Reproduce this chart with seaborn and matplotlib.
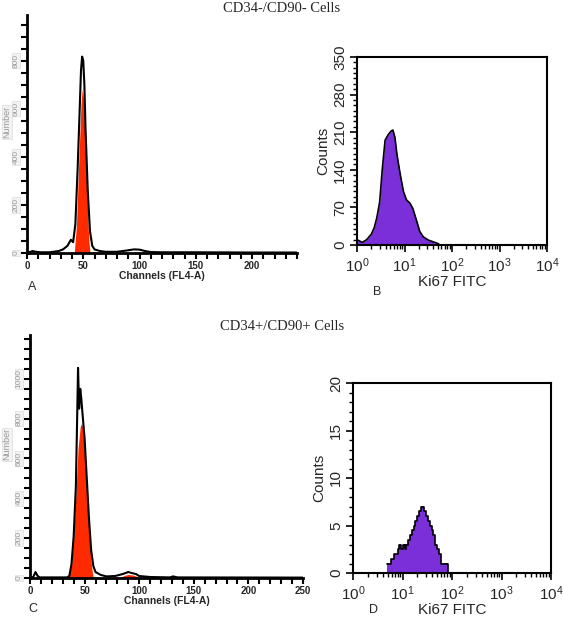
import numpy as np, pandas as pd, matplotlib
matplotlib.use("Agg")
import matplotlib.pyplot as plt
import seaborn as sns
from matplotlib.ticker import MultipleLocator, LogLocator

# Panel A: DNA content, CD34-/CD90-
a_channel = [0, 5, 8, 12, 20, 28, 32, 36, 39, 41, 43, 45, 47, 48, 49, 50, 51, 52, 54, 56, 58, 60, 65, 70, 80, 88, 95, 100, 105, 110, 120, 150, 200, 240]
a_count = [0, 8, 5, 3, 3, 8, 15, 30, 55, 45, 120, 350, 620, 760, 817, 800, 700, 520, 260, 90, 30, 15, 8, 5, 5, 10, 15, 14, 8, 4, 3, 3, 2, 2]
a_g1_channel = [42, 44, 46, 48, 49, 50, 52, 54, 55, 56]
a_g1_count = [0, 120, 380, 620, 680, 650, 420, 150, 50, 0]
a_yticks = [0, 200, 400, 600, 800]

# Panel C: DNA content, CD34+/CD90+
c_channel = [0, 3, 5, 7, 9, 20, 34, 36, 38, 40, 42, 43, 44, 45, 46, 47, 48, 50, 52, 54, 56, 58, 60, 65, 70, 78, 85, 90, 93, 97, 100, 110, 128, 131, 135, 250]
c_count = [0, 5, 30, 10, 3, 3, 3, 10, 70, 210, 460, 750, 1055, 850, 950, 900, 830, 700, 500, 300, 140, 60, 30, 15, 8, 10, 20, 30, 25, 20, 10, 5, 3, 8, 3, 2]
c_g1_channel = [35, 38, 40, 42, 44, 46, 47, 48, 50, 52, 54, 56, 57, 58]
c_g1_count = [0, 60, 200, 420, 650, 760, 775, 760, 620, 430, 230, 80, 30, 0]
c_g2_channel = [82, 86, 90, 94, 98, 102]
c_g2_count = [0, 12, 18, 15, 8, 0]
c_yticks = [0, 200, 400, 600, 800, 1000]

# Panel B: Ki67 FITC, CD34-/CD90-
b_fitc = [1.0, 1.1, 1.3, 1.6, 2.0, 2.3, 2.6, 3.0, 3.4, 3.9, 4.5, 5.2, 5.7, 6.3, 6.9, 8.0, 9.5, 11, 13, 15, 18, 21, 25, 32, 40, 50, 56]
b_count = [10, 8, 5, 10, 20, 32, 50, 80, 140, 195, 205, 212, 214, 200, 170, 135, 100, 84, 78, 68, 45, 25, 15, 9, 6, 3, 0]

# Panel D: Ki67 FITC, CD34+/CD90+
d_fitc = [4.9, 5.5, 6.2, 7.0, 7.6, 8.3, 9.0, 9.8, 10.6, 11.5, 12.5, 13.6, 14.8, 16.1, 17.5, 19.0, 20.7, 22.5, 24.4, 26.6, 28.9, 31.4, 34.1, 37.1, 40.3, 43.8, 47.6, 51.8, 56.3, 61.2, 66.5, 72.3, 78.6, 85.0]
d_count = [1, 1, 1.5, 2, 2, 2.5, 3, 2.5, 3, 2.5, 3, 3.5, 4, 4.5, 5, 5.5, 6, 6.5, 7, 7, 6.5, 6, 5.5, 5, 4.5, 4, 3, 2.5, 2, 1, 1, 1, 1, 0]

titles = ["CD34-/CD90- Cells", "CD34+/CD90+ Cells"]
letters = ["A", "B", "C", "D"]

sns.set_theme(style="ticks")
plt.rcParams["font.family"] = ["Liberation Sans", "DejaVu Sans"]

W, H = 563, 624
fig = plt.figure(figsize=(W / 100, H / 100), dpi=100)

def box(l, t, r, b):
    return fig.add_axes([l / W, 1 - b / H, (r - l) / W, (b - t) / H])

red = "#ff2a00"
purple = "#7b2fd9"
gray = "#9a9a9a"

def dna_panel(ax, ch, cnt, fills, xmax, ymax, yticks, left_px, width_px):
    for fx, fy in fills:
        ax.fill_between(fx, fy, color=red, lw=0, zorder=2)
    sns.lineplot(x=ch, y=cnt, ax=ax, color="black", lw=1.5, zorder=3)
    ax.set_xlim(0, xmax)
    ax.set_ylim(0, ymax)
    sns.despine(ax=ax)
    for s in ["left", "bottom"]:
        ax.spines[s].set_linewidth(2)
        ax.spines[s].set_color("black")
    ax.xaxis.set_major_locator(MultipleLocator(50))
    ax.xaxis.set_minor_locator(MultipleLocator(10))
    ax.set_yticks(yticks)
    ax.yaxis.set_minor_locator(MultipleLocator(50))
    ax.tick_params(axis="both", which="major", length=4.5, width=1.5, direction="out", color="black")
    ax.tick_params(axis="both", which="minor", length=4, width=1.5, direction="out", color="black")
    ax.tick_params(axis="x", labelsize=7, pad=1)
    ax.tick_params(axis="y", labelsize=6, pad=1, labelcolor=gray, labelrotation=90)
    for lbl in ax.get_xticklabels():
        lbl.set_fontweight("bold")
    for lbl in ax.get_yticklabels():
        lbl.set_va("center")
        lbl.set_bbox(dict(facecolor="#f2f2f2", edgecolor="#dddddd", lw=0.5, pad=0.5))
    ax.set_xlabel("Channels (FL4-A)", fontsize=7.5, fontweight="bold", labelpad=0)
    ax.set_ylabel("Number", fontsize=6.5, color=gray,
                  bbox=dict(facecolor="#f2f2f2", edgecolor="#dddddd", lw=0.5, pad=0.5))
    ax.yaxis.set_label_coords((11.5 - left_px) / width_px, 0.55)
    ax.grid(False)

def ki67_panel(ax, fx, cnt, ymax, ystep, yminor, step):
    ds = "steps-mid" if step else "default"
    ax.fill_between(fx, cnt, color=purple, lw=0, step="mid" if step else None, zorder=2)
    sns.lineplot(x=fx, y=cnt, ax=ax, color="black", lw=1.2, drawstyle=ds, zorder=3)
    ax.set_xscale("log")
    ax.set_xlim(1, 1e4)
    ax.set_ylim(0, ymax)
    for s in ax.spines.values():
        s.set_linewidth(1.5)
        s.set_color("black")
    ax.xaxis.set_major_locator(LogLocator(base=10, numticks=10))
    ax.xaxis.set_minor_locator(LogLocator(base=10, subs=np.arange(2, 10), numticks=10))
    ax.yaxis.set_major_locator(MultipleLocator(ystep))
    ax.yaxis.set_minor_locator(MultipleLocator(yminor))
    ax.tick_params(axis="both", which="major", length=5, width=1.2, direction="out", color="black", labelsize=11)
    ax.tick_params(axis="both", which="minor", length=3, width=1, direction="out", color="black")
    ax.tick_params(axis="y", labelrotation=90, pad=2)
    for lbl in ax.get_yticklabels():
        lbl.set_va("center")
    ax.set_xlabel("Ki67 FITC", fontsize=11, labelpad=0)
    ax.set_ylabel("Counts", fontsize=11, labelpad=2)
    ax.grid(False)

ax_a = box(27, 15, 297, 253)
dna_panel(ax_a, a_channel, a_count, [(a_g1_channel, a_g1_count)], 240, 990, a_yticks, 27, 270)

ax_b = box(357, 57, 547, 245)
ki67_panel(ax_b, b_fitc, b_count, 350, 70, 10, False)

ax_c = box(30, 335, 303, 578)
dna_panel(ax_c, c_channel, c_count, [(c_g1_channel, c_g1_count), (c_g2_channel, c_g2_count)], 250, 1220, c_yticks, 30, 273)

ax_d = box(353, 383, 551, 573)
ki67_panel(ax_d, d_fitc, d_count, 20, 5, 1, True)

serif = ["Liberation Serif", "DejaVu Serif"]
fig.text(282 / W, 1 - 8 / H, titles[0], family=serif, fontsize=10.5, ha="center", va="center")
fig.text(282 / W, 1 - 326 / H, titles[1], family=serif, fontsize=10.5, ha="center", va="center")

for lt, (x, y) in zip(letters, [(32, 287), (377, 292), (33, 609), (373, 610)]):
    fig.text(x / W, 1 - y / H, lt, fontsize=9, ha="center", va="center")

fig.savefig("out.png", dpi=100)
